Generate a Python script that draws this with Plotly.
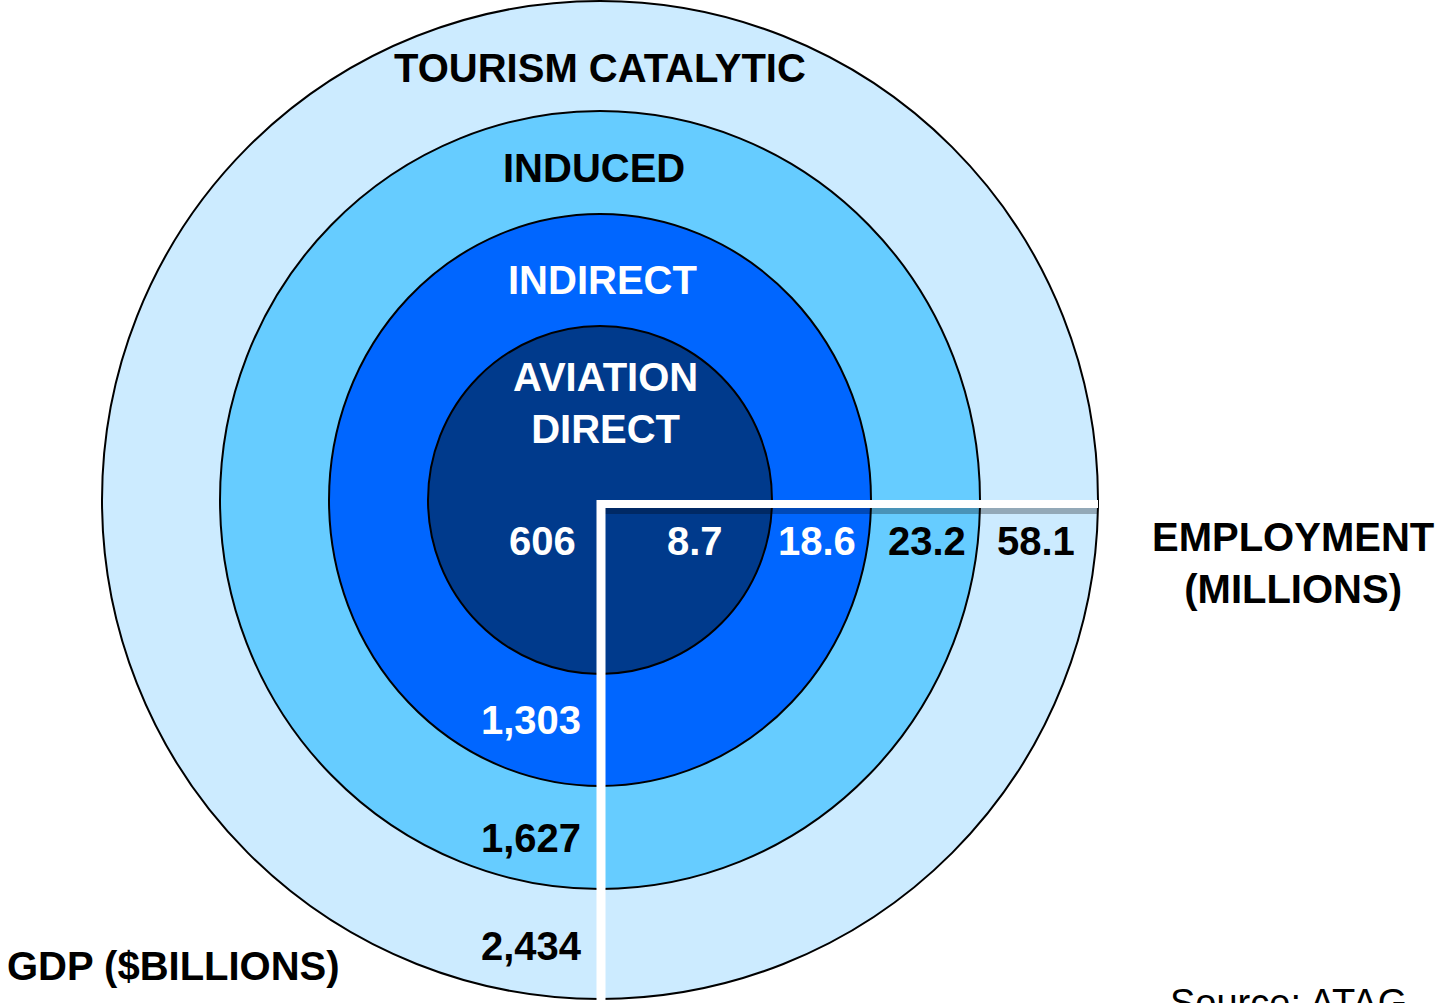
import plotly.graph_objects as go

# ---- data ----
rings = ["TOURISM CATALYTIC", "INDUCED", "INDIRECT", "AVIATION<br>DIRECT"]
employment_millions = [58.1, 23.2, 18.6, 8.7]
gdp_billions = [2434, 1627, 1303, 606]
axis_titles = ["EMPLOYMENT<br>(MILLIONS)", "GDP ($BILLIONS)"]
source_text = "Source: ATAG"

# ---- style / layout constants ----
W, H = 1436, 1003
CX, CY = 600, 500
ring_colors = ["#CCEBFF", "#66CCFF", "#0066FF", "#003A8C"]
ring_text_colors = ["black", "black", "white", "white"]
ring_rx = [498, 380, 271, 172]
ring_ry = [499, 389, 286, 174]
ring_label_pos = [(600, 68), (594, 168), (602, 280), (605, 403)]
emp_label_x = [1036, 927, 817, 695]
emp_label_y = 541
gdp_label_x = [531, 531, 531, 542]
gdp_label_y = [946, 838, 720, 541]
FONT = "Liberation Sans, Arial, sans-serif"
FS = 40

fig = go.Figure()
shapes = []
for rx, ry, col in zip(ring_rx, ring_ry, ring_colors):
    shapes.append(dict(type="circle", xref="x", yref="y",
                       x0=CX - rx, x1=CX + rx, y0=CY - ry, y1=CY + ry,
                       fillcolor=col, line=dict(color="black", width=2), layer="below"))
# shadow under horizontal white line
shapes.append(dict(type="line", xref="x", yref="y", x0=604, x1=1098, y0=511, y1=511,
                   line=dict(color="rgba(0,0,0,0.28)", width=6)))
# white L
shapes.append(dict(type="line", xref="x", yref="y", x0=597, x1=1098, y0=504, y1=504,
                   line=dict(color="white", width=8)))
shapes.append(dict(type="line", xref="x", yref="y", x0=601, x1=601, y0=500, y1=H + 5,
                   line=dict(color="white", width=9)))

ann = []
def txt(x, y, s, color="black", size=FS, bold=True, xanchor="center", yanchor="middle"):
    ann.append(dict(x=x, y=y, xref="x", yref="y", text=s, showarrow=False,
                    xanchor=xanchor, yanchor=yanchor,
                    font=dict(family=FONT, size=size, color=color,
                              weight=700 if bold else 400)))

for name, pos, c in zip(rings, ring_label_pos, ring_text_colors):
    txt(pos[0], pos[1], name, c)
for v, x, c in zip(employment_millions, emp_label_x, ring_text_colors):
    txt(x, emp_label_y, f"{v:.1f}", c)
for v, x, y, c in zip(gdp_billions, gdp_label_x, gdp_label_y, ring_text_colors):
    txt(x, y, f"{v:,}", c)
txt(1293, 563, axis_titles[0])
txt(5, 966, axis_titles[1], xanchor="left")
txt(1168, 980, source_text, size=38, bold=False, xanchor="left", yanchor="top")

fig.update_layout(
    width=W, height=H, margin=dict(l=0, r=0, t=0, b=0),
    paper_bgcolor="white", plot_bgcolor="white",
    xaxis=dict(range=[0, W], visible=False, fixedrange=True),
    yaxis=dict(range=[H, 0], visible=False, fixedrange=True),
    shapes=shapes, annotations=ann, showlegend=False,
)
fig.write_html("out.html", config={"displayModeBar": False},
               post_script="document.body.style.margin='0';document.body.style.overflow='hidden';")
